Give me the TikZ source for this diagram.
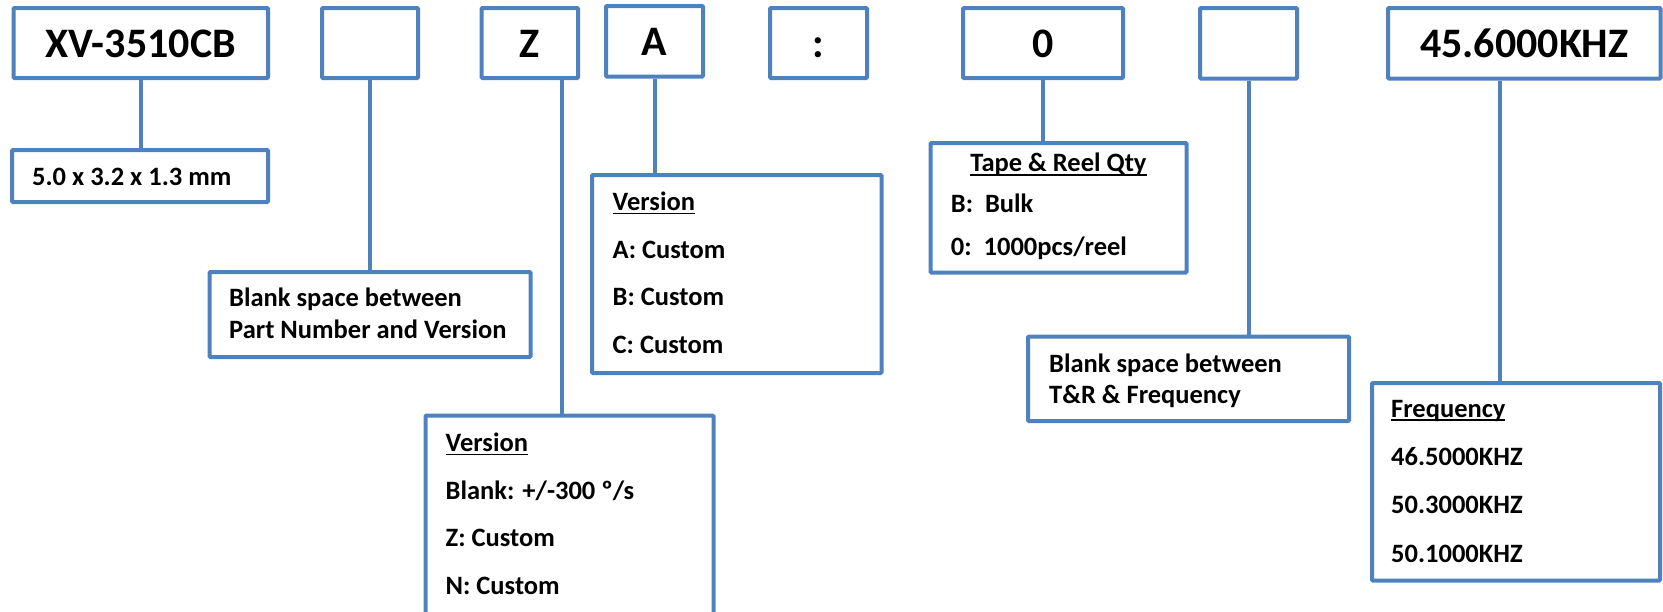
\documentclass[tikz,border=0pt]{standalone}
\usepackage{fontspec}
\setmainfont{Carlito}
\definecolor{boxblue}{RGB}{79,129,189}
\newcommand\ulx[1]{\setbox0\hbox{#1}\rlap{\rule[-3.8pt]{\wd0}{1.8pt}}\box0}
\begin{document}
\begin{tikzpicture}[x=1pt,y=-1pt,
  box/.style={draw=boxblue, line width=4pt, rounded corners=1pt, inner sep=0pt, fill=white},
  conn/.style={draw=boxblue, line width=4pt},
  toptxt/.style={anchor=base, inner sep=0pt, font=\bfseries\fontsize{42}{48}\selectfont},
  lbl/.style={anchor=base west, inner sep=0pt, font=\bfseries\fontsize{26.5}{30}\selectfont},
  ttl/.style={anchor=base, inner sep=0pt, font=\bfseries\fontsize{26.5}{30}\selectfont}]
\useasboundingbox (0,0) rectangle (1663,611);
\clip (0,0) rectangle (1663,611);
% connector anchor coordinates
% top row boxes
\node[box, minimum width=254.5pt, minimum height=70pt] (xv) at (140.75,43) {};
\node[box, minimum width=96pt, minimum height=70pt] (b2) at (370,43) {};
\node[box, minimum width=96.5pt, minimum height=70pt] (z) at (529.75,43) {};
\node[box, minimum width=97pt, minimum height=70.5pt] (a) at (654.5,41.25) {};
\node[box, minimum width=97pt, minimum height=70pt] (colon) at (818.5,43) {};
\node[box, minimum width=160pt, minimum height=70pt] (zero) at (1043,43) {};
\node[box, minimum width=97pt, minimum height=70.5pt] (b7) at (1248.5,43.25) {};
\node[box, minimum width=272.5pt, minimum height=70.5pt] (freqt) at (1524.25,43.25) {};
% lower boxes
\node[box, minimum width=256pt, minimum height=52pt] (dim) at (140,176) {};
\node[box, minimum width=321pt, minimum height=85pt] (bsp) at (370,314.5) {};
\node[box, minimum width=289.5pt, minimum height=198pt] (verA) at (736.75,274) {};
\node[box, minimum width=288pt, minimum height=224.5pt] (verZ) at (569.5,527.75) {};
\node[box, minimum width=256pt, minimum height=129.5pt] (tape) at (1058.5,207.75) {};
\node[box, minimum width=321pt, minimum height=84.5pt] (tr) at (1188.5,378.75) {};
\node[box, minimum width=288pt, minimum height=197.5pt] (freq) at (1516,481.75) {};
% connectors
\coordinate (zc) at ([xshift=32.25pt]z.south);
\coordinate (fc) at ([xshift=-24.25pt]freqt.south);
\draw[conn] (xv.south) -- (xv.south |- dim.north);
\draw[conn] (b2.south) -- (b2.south |- bsp.north);
\draw[conn] (zc) -- (zc |- verZ.north);
\draw[conn] (a.south) -- (a.south |- verA.north);
\draw[conn] (zero.south) -- (zero.south |- tape.north);
\draw[conn] (b7.south) -- (b7.south |- tr.north);
\draw[conn] (fc) -- (fc |- freq.north);
% top texts
\node[toptxt] (xvt) at (140.75,57) {XV-3510CB};
\node[toptxt] (zt) at (529.75,57) {Z};
\node[toptxt] (at) at (654.5,55) {A};
\node[toptxt] (colt) at (818.5,57) {:};
\node[toptxt] (zerot) at (1043,57) {0};
\node[toptxt] (freqtt) at (1524.25,57) {45.6000KHZ};
% dimension
\node[lbl] (dim1) at (32,185) {5.0 x 3.2 x 1.3 mm};
% blank space
\node[lbl] (bsp1) at (229,306.5) {Blank space between};
\node[lbl] (bsp2) at (229,338.5) {Part Number and Version};
% version A
\node[lbl] (va0) at (612.5,210.5) {\ulx{Version}};
\node[lbl] (va1) at (612.5,258) {A: Custom};
\node[lbl] (va2) at (612.5,305.5) {B: Custom};
\node[lbl] (va3) at (612.5,353) {C: Custom};
% version Z
\node[lbl] (vz0) at (445.5,451.5) {\ulx{Version}};
\node[lbl] (vz1) at (445.5,499) {Blank: +/-300 º/s};
\node[lbl] (vz2) at (445.5,546.5) {Z: Custom};
\node[lbl] (vz3) at (445.5,594) {N: Custom};
% tape
\node[ttl] (tp0) at (1058.5,171.7) {\ulx{Tape \& Reel Qty}};
\node[lbl] (tp1) at (950.7,212.5) {B:\ \ Bulk};
\node[lbl] (tp2) at (950.7,255) {0:\ \ 1000pcs/reel};
% T&R
\node[lbl] (tr1) at (1049,372) {Blank space between};
\node[lbl] (tr2) at (1049,403) {T\&R \& Frequency};
% frequency
\node[lbl] (fq0) at (1391,417) {\ulx{Frequency}};
\node[lbl] (fq1) at (1391,465) {46.5000KHZ};
\node[lbl] (fq2) at (1391,513) {50.3000KHZ};
\node[lbl] (fq3) at (1391,562) {50.1000KHZ};
\end{tikzpicture}
\end{document}
